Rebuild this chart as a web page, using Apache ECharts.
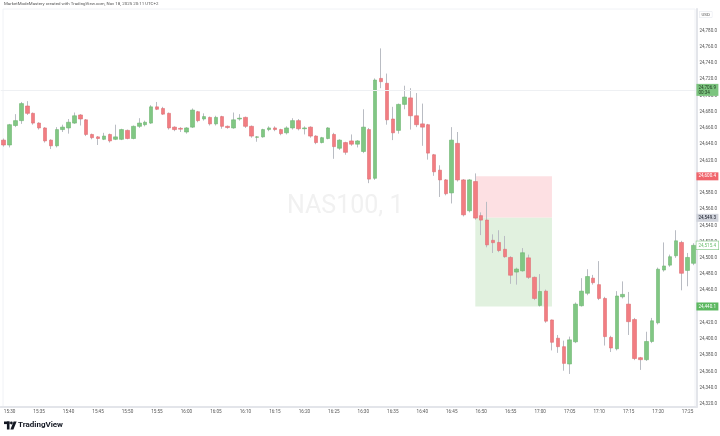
<!DOCTYPE html>
<html>
<head>
<meta charset="utf-8">
<title>NAS100, 1</title>
<script src="https://cdn.jsdelivr.net/npm/echarts@6/dist/echarts.min.js"></script>
<style>
  html, body { margin: 0; padding: 0; background: #fff; }
  #chart { width: 720px; height: 436px; }
</style>
</head>
<body>
<div id="chart"></div>
<script>
// 1 minute bars
const times = [
  "15:29","15:30","15:31","15:32","15:33","15:34","15:35","15:36","15:37","15:38","15:39",
  "15:40","15:41","15:42","15:43","15:44","15:45","15:46","15:47","15:48","15:49",
  "15:50","15:51","15:52","15:53","15:54","15:55","15:56","15:57","15:58","15:59",
  "16:00","16:01","16:02","16:03","16:04","16:05","16:06","16:07","16:08","16:09",
  "16:10","16:11","16:12","16:13","16:14","16:15","16:16","16:17","16:18","16:19",
  "16:20","16:21","16:22","16:23","16:24","16:25","16:26","16:27","16:28","16:29",
  "16:30","16:31","16:32","16:33","16:34","16:35","16:36","16:37","16:38","16:39",
  "16:40","16:41","16:42","16:43","16:44","16:45","16:46","16:47","16:48","16:49",
  "16:50","16:51","16:52","16:53","16:54","16:55","16:56","16:57","16:58","16:59",
  "17:00","17:01","17:02","17:03","17:04","17:05","17:06","17:07","17:08","17:09",
  "17:10","17:11","17:12","17:13","17:14","17:15","17:16","17:17","17:18","17:19",
  "17:20","17:21","17:22","17:23","17:24","17:25","17:26"
];
const opens = [
  24645, 24639, 24663, 24669, 24687, 24678, 24666, 24660, 24645, 24638,
  24658, 24660, 24666, 24676, 24670, 24652, 24649, 24646, 24652, 24646,
  24646, 24657, 24647, 24662, 24664, 24666, 24686, 24684, 24678, 24661,
  24659.5, 24655, 24661, 24680, 24671, 24673, 24665, 24674, 24662, 24660,
  24671, 24673, 24662, 24648.5, 24649, 24658, 24660, 24658, 24654, 24660,
  24669, 24659, 24661, 24650, 24642, 24647, 24652, 24635, 24642, 24644,
  24640, 24631, 24658, 24598, 24721, 24715, 24671, 24657, 24689, 24697,
  24675, 24665, 24664, 24627, 24608, 24596, 24580, 24641, 24596, 24558,
  24594, 24552, 24546.6, 24521.6, 24519, 24510.5, 24500.5, 24482.5, 24484, 24500,
  24476, 24441.4, 24459, 24423.5, 24401, 24390.6, 24369.3, 24396.6, 24441, 24456.4,
  24475, 24467, 24450, 24402, 24388, 24452, 24443, 24424, 24377, 24374.6,
  24397, 24420, 24485, 24491, 24502.6, 24519, 24484.5, 24493.3
];
const closes = [
  24639, 24664, 24669, 24690, 24678, 24666, 24660, 24644, 24638, 24658,
  24661, 24667, 24675, 24671, 24652, 24648, 24647, 24650, 24644, 24649,
  24658, 24647, 24662, 24666, 24667, 24686, 24683, 24677, 24660, 24658,
  24658.5, 24660, 24682, 24669, 24674, 24665, 24673, 24662, 24660.5, 24670,
  24672, 24662, 24650, 24649, 24658, 24660, 24658, 24653, 24660, 24669,
  24659, 24660, 24650, 24642, 24648, 24660, 24637, 24645, 24630, 24640,
  24644, 24661, 24597, 24719, 24717, 24670, 24654, 24689, 24698, 24675,
  24664, 24661, 24629, 24606, 24596, 24579, 24645, 24596, 24553, 24596,
  24549, 24546.5, 24516, 24518.7, 24509, 24501.4, 24478.6, 24486.2, 24506.3, 24476,
  24450, 24458.6, 24422, 24396, 24390.6, 24370, 24399, 24443, 24459, 24477,
  24469.4, 24450, 24403, 24389, 24453, 24455, 24421.4, 24376, 24374.6, 24397,
  24422.5, 24486, 24490, 24501.4, 24521, 24481, 24500.5, 24515.4
];
const highs = [
  24647, 24665, 24677, 24692, 24693, 24679, 24667, 24661, 24646, 24661,
  24664, 24671, 24679, 24677, 24671, 24653, 24650, 24654, 24653, 24664,
  24659, 24658, 24663, 24672, 24669, 24688, 24692, 24686, 24679, 24662,
  24661, 24661, 24684, 24681, 24678, 24674, 24675, 24675, 24663, 24679,
  24677, 24674, 24663, 24650, 24659, 24662, 24662, 24659, 24662, 24672,
  24671, 24662, 24662, 24651, 24649, 24661, 24654, 24646, 24643, 24652,
  24645, 24683, 24660, 24721, 24758, 24727, 24686, 24690, 24712, 24709,
  24703, 24690, 24665, 24628, 24614, 24597, 24661, 24655, 24597, 24597,
  24604, 24556, 24569, 24529, 24534, 24527, 24502, 24488, 24512, 24504,
  24477, 24480, 24461, 24424, 24405, 24398, 24403, 24445, 24475, 24486,
  24479, 24496, 24452, 24404, 24459, 24471, 24458, 24426, 24378, 24409,
  24426, 24488, 24519, 24504, 24534, 24521, 24506, 24518
];
const lows = [
  24637, 24636, 24661, 24665, 24676, 24664, 24658, 24642, 24634, 24636,
  24655, 24653, 24665, 24663, 24650, 24646, 24639, 24645, 24642, 24645,
  24645, 24646, 24646, 24660, 24662, 24665, 24682, 24676, 24658, 24656,
  24655, 24653, 24660, 24667, 24669, 24663, 24663, 24659, 24659, 24659,
  24669, 24660, 24648, 24643, 24648, 24656, 24656, 24651, 24652, 24658,
  24657, 24652, 24648, 24640, 24641, 24646, 24622, 24633, 24627, 24638,
  24636, 24629, 24592, 24596, 24709, 24664, 24645, 24653, 24683, 24658,
  24661, 24638, 24621, 24601, 24575, 24577, 24567, 24594, 24551, 24556,
  24547, 24528, 24513, 24506, 24507, 24500, 24468, 24467, 24483, 24474,
  24448, 24440, 24420, 24386, 24383, 24361, 24357, 24395, 24440, 24454,
  24467, 24448, 24392, 24384, 24386, 24450, 24405, 24374, 24362, 24373,
  24395, 24418, 24483, 24489, 24500, 24460, 24465, 24491
];
const priceTicks = [
  24320, 24340, 24360, 24380, 24400, 24420, 24440, 24460, 24480, 24500, 24520, 24540,
  24560, 24580, 24600, 24620, 24640, 24660, 24680, 24700, 24720, 24740, 24760, 24780
];

// long position tool
const posStart = "16:49";
const posEnd = "17:02";
const stopLevel = 24600.4;
const entryLevel = 24549.3;
const targetLevel = 24440.1;
const lineLevel = 24706.9;
const lastPrice = 24515.4;

const fmt = (v) => v.toLocaleString("en-US", { minimumFractionDigits: 1, maximumFractionDigits: 1 });

const upColor = "#81c784", upBorder = "#6db571";
const downColor = "#f27d82", downBorder = "#de6f74";
const wickColor = "#b9bcc3";
const tagFont = 4.6;

const wickData = times.map((t, i) => [opens[i], closes[i], lows[i], highs[i]]);
const bodyData = times.map((t, i) => [opens[i], closes[i], Math.min(opens[i], closes[i]), Math.max(opens[i], closes[i])]);

const chart = echarts.init(document.getElementById("chart"));

// price tag on the right scale
const tag = (value, text, bg, fg, border) => ({
  yAxis: value,
  lineStyle: { color: "rgba(0,0,0,0)", width: 0 },
  label: {
    show: true, position: "end", distance: 0, formatter: text,
    backgroundColor: bg, color: fg, borderColor: border || bg, borderWidth: border ? 0.6 : 0,
    fontSize: tagFont, fontFamily: "Roboto, sans-serif", padding: [1.5, 2, 1.5, 2], width: 18
  }
});

chart.setOption({
  animation: false,
  backgroundColor: "#ffffff",
  textStyle: { fontFamily: "Roboto, sans-serif" },
  grid: { left: 0.75, right: 23, top: 9, bottom: 29 },
  xAxis: {
    type: "category",
    data: times,
    boundaryGap: true,
    axisLine: { show: true, lineStyle: { color: "#e3e5ea", width: 2 } },
    axisTick: { show: false },
    splitLine: { show: false },
    axisLabel: {
      interval: (idx, val) => Number(val.slice(3)) % 5 === 0,
      fontSize: tagFont, color: "#555", margin: 2, hideOverlap: false
    }
  },
  yAxis: {
    type: "value",
    position: "right",
    min: 24316.3,
    max: 24806.5,
    splitNumber: 25,
    axisLine: { show: true, lineStyle: { color: "#e3e5ea", width: 2 } },
    axisTick: { show: false },
    splitLine: { show: false },
    axisLabel: {
      fontSize: tagFont, color: "#555", margin: 3, hideOverlap: false,
      formatter: (v) => priceTicks.includes(Math.round(v * 10) / 10) ? fmt(v) : ""
    }
  },
  graphic: [
    { type: "rect", silent: true, z: 0, shape: { x: 3, y: 9, width: 692, height: 398 },
      style: { fill: "none", stroke: "#f0f2f6", lineWidth: 1 } },
    { type: "text", silent: true, z: 0, left: 287, top: 194, style: {
        text: "NAS100, 1", fill: "#f1f1f1", fontSize: 25, fontFamily: "Roboto, sans-serif" } },
    { type: "text", silent: true, left: 4, top: 2, style: {
        text: "MarketModeMastery created with TradingView.com, Nov 18, 2025 20:11 UTC+2",
        fill: "#555", fontSize: 4.4, fontFamily: "Roboto, sans-serif" } },
    { type: "text", silent: true, left: 699, top: 11, style: {
        text: "USD", fill: "#555", fontSize: 4.4, fontFamily: "Roboto, sans-serif",
        backgroundColor: "#fff", borderColor: "#e0e3eb", borderWidth: 0.5, padding: [1, 2] } },
    // TradingView logo
    { type: "rect", silent: true, shape: { x: 4, y: 421.5, width: 5.5, height: 2.6 }, style: { fill: "#131722" } },
    { type: "rect", silent: true, shape: { x: 6.9, y: 421.5, width: 2.6, height: 8 }, style: { fill: "#131722" } },
    { type: "circle", silent: true, shape: { cx: 11.4, cy: 423, r: 1.4 }, style: { fill: "#131722" } },
    { type: "polygon", silent: true, shape: { points: [[13.6, 421.5], [16.6, 421.5], [13.4, 429.5], [10.4, 429.5]] }, style: { fill: "#131722" } },
    { type: "text", silent: true, left: 18, top: 420.5, style: {
        text: "TradingView", fill: "#131722", fontSize: 8, fontWeight: "bold", fontFamily: "Roboto, sans-serif" } }
  ],
  series: [
    {
      name: "wick",
      type: "candlestick",
      data: wickData,
      barWidth: 1,
      silent: true,
      z: 2,
      itemStyle: { color: wickColor, color0: wickColor, borderColor: wickColor, borderColor0: wickColor, borderWidth: 1 }
    },
    {
      name: "NAS100",
      type: "candlestick",
      data: bodyData,
      barWidth: 4,
      silent: true,
      z: 3,
      itemStyle: { color: upColor, color0: downColor, borderColor: upBorder, borderColor0: downBorder, borderWidth: 0.6 },
      markArea: {
        silent: true,
        data: [
          [{ xAxis: posStart, yAxis: stopLevel, itemStyle: { color: "#fde0e3" } }, { xAxis: posEnd, yAxis: entryLevel }],
          [{ xAxis: posStart, yAxis: entryLevel, itemStyle: { color: "#e1f1df" } }, { xAxis: posEnd, yAxis: targetLevel }]
        ]
      },
      markLine: {
        silent: true,
        symbol: ["none", "none"],
        data: [
          {
            yAxis: lineLevel,
            lineStyle: { color: "#eef0f3", width: 1, type: "solid" },
            label: {
              show: true, position: "end", distance: 0, formatter: fmt(lineLevel) + "\n00:34",
              backgroundColor: "#7cc47f", color: "#1f3b20", fontSize: tagFont, lineHeight: 5,
              fontFamily: "Roboto, sans-serif", padding: [1, 2, 1, 2], width: 18
            }
          },
          tag(stopLevel, fmt(stopLevel), "#f0646b", "#ffffff"),
          tag(entryLevel, fmt(entryLevel), "#d1d4dc", "#131722"),
          tag(lastPrice, fmt(lastPrice), "#ffffff", "#6cbf70", "#81c784"),
          tag(targetLevel, fmt(targetLevel), "#5cb860", "#ffffff")
        ]
      }
    }
  ]
});
</script>
</body>
</html>
